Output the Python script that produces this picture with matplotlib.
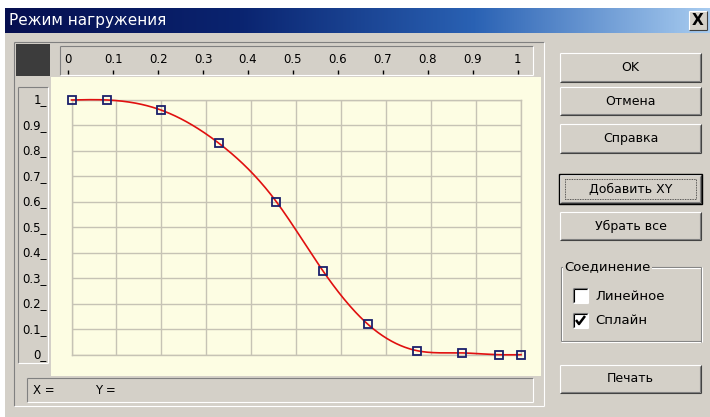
import numpy as np
import matplotlib.pyplot as plt
from matplotlib.patches import Rectangle
from matplotlib.colors import LinearSegmentedColormap
from matplotlib import font_manager

# --- data ---
x_pts = [0.0, 0.08, 0.2, 0.328, 0.456, 0.559, 0.659, 0.768, 0.868, 0.95, 1.0]
y_pts = [1.0, 1.0, 0.96, 0.83, 0.6, 0.33, 0.12, 0.016, 0.007, 0.0, 0.0]

x_ticks = [0, 0.1, 0.2, 0.3, 0.4, 0.5, 0.6, 0.7, 0.8, 0.9, 1.0]
x_tick_labels = ['0', '0.1', '0.2', '0.3', '0.4', '0.5', '0.6', '0.7', '0.8', '0.9', '1']
y_ticks = [0, 0.1, 0.2, 0.3, 0.4, 0.5, 0.6, 0.7, 0.8, 0.9, 1.0]
y_tick_labels = ['0_', '0.1_', '0.2_', '0.3_', '0.4_', '0.5_', '0.6_', '0.7_', '0.8_', '0.9_', '1_']

title = 'Режим нагружения'
buttons = ['OK', 'Отмена', 'Справка', 'Добавить XY', 'Убрать все', 'Печать']
group_title = 'Соединение'
checks = ['Линейное', 'Сплайн']
checked = [False, True]

W, H = 710, 417
GRAY = '#d4d0c8'
plt.rcParams['font.family'] = ['DejaVu Sans']

# narrow font for the rulers if there is one
names = {f.name for f in font_manager.fontManager.ttflist}
if 'Liberation Sans Narrow' in names:
    RULER = dict(family='Liberation Sans Narrow', fontsize=10.5, fontweight='bold')
else:
    RULER = dict(family='DejaVu Sans', fontsize=8.5)


def natural_spline(x, y, xs):
    x = np.asarray(x, float)
    y = np.asarray(y, float)
    n = len(x)
    h = np.diff(x)
    A = np.zeros((n, n))
    r = np.zeros(n)
    A[0, 0] = 1
    A[-1, -1] = 1
    for i in range(1, n - 1):
        A[i, i - 1] = h[i - 1]
        A[i, i] = 2 * (h[i - 1] + h[i])
        A[i, i + 1] = h[i]
        r[i] = 3 * ((y[i + 1] - y[i]) / h[i] - (y[i] - y[i - 1]) / h[i - 1])
    c = np.linalg.solve(A, r)
    b = (y[1:] - y[:-1]) / h - h * (2 * c[:-1] + c[1:]) / 3
    d = (c[1:] - c[:-1]) / (3 * h)
    k = np.clip(np.searchsorted(x, xs) - 1, 0, n - 2)
    t = xs - x[k]
    return y[k] + b[k] * t + c[k] * t ** 2 + d[k] * t ** 3


fig = plt.figure(figsize=(7.1, 4.17), dpi=100)
fig.patch.set_facecolor('white')
bg = fig.add_axes([0, 0, 1, 1])
bg.axis('off')


def box(x0, y0, x1, y1, fc, z=1):
    bg.add_patch(Rectangle((x0, y0), x1 - x0, y1 - y0, facecolor=fc,
                           edgecolor='none', zorder=z))


def line(xs, ys, c, lw=0.8, z=3, **kw):
    bg.plot(xs, ys, color=c, lw=lw, zorder=z, solid_capstyle='butt', **kw)


def bevel(x0, y0, x1, y1, raised=True, z=3):
    light, dark = ('white', '#404040') if raised else ('#808080', 'white')
    line([x0, x1], [y0, y0], light, z=z)
    line([x0, x0], [y0, y1], light, z=z)
    line([x0, x1], [y1, y1], dark, z=z)
    line([x1, x1], [y0, y1], dark, z=z)


# window
box(5, 8, W, H, GRAY)

# title bar
cmap = LinearSegmentedColormap.from_list('tb', ['#060f50', '#0a2470', '#2a62b4', '#a8ccf0'])
bg.imshow(np.linspace(0, 1, 256)[None, :], cmap=cmap, aspect='auto',
          extent=(5, W, 33, 8), zorder=2)
bg.text(9, 20.5, title, color='white', fontsize=11, va='center', ha='left', zorder=4)
box(689, 11, 707, 30, GRAY, z=3)
bevel(689, 11, 707, 30)
bg.text(698, 20.5, 'X', fontsize=11, fontweight='bold', ha='center', va='center', zorder=4)

# chart control frame
bevel(14, 42, 544, 406, raised=False)
box(16, 44, 50, 76, '#3c3c3c', z=2)
box(51, 44, 543, 77, GRAY, z=2)
bevel(60, 46, 533, 75, raised=False)
box(16, 77, 50, 376, GRAY, z=2)
bevel(18, 87, 48, 363, raised=False)
box(51, 77, 541, 376, '#fdfde3', z=2)
box(16, 376, 543, 405, GRAY, z=2)
bevel(27, 378, 533, 402, raised=False)
bg.text(33, 391, 'X =', fontsize=8.5, va='center', ha='left', zorder=4)
bg.text(95, 391, 'Y =', fontsize=8.5, va='center', ha='left', zorder=4)

# rulers
for v, lab in zip(x_ticks, x_tick_labels):
    px = 68.3 + 449.4 * v
    bg.text(px, 59, lab, ha='center', va='center', zorder=4, **RULER)
    line([px, px], [70, 74], 'black', lw=1.0, z=4)
for v, lab in zip(y_ticks, y_tick_labels):
    py = 354.7 - 254.7 * v
    bg.text(47, py, lab, ha='right', va='center', zorder=4, **RULER)

# buttons
btn_y = [(53, 82), (87, 115), (124, 153), (175, 203), (212, 240), (365, 393)]
for lab, (y0, y1) in zip(buttons, btn_y):
    box(560, y0, 701, y1, GRAY, z=2)
    bevel(560, y0, 701, y1)
    line([561, 700], [y1 - 1, y1 - 1], '#808080', z=3)
    line([700, 700], [y0 + 1, y1 - 1], '#808080', z=3)
    if lab == 'Добавить XY':
        bg.add_patch(Rectangle((559, y0 - 1), 143, y1 - y0 + 2, facecolor='none',
                               edgecolor='black', lw=1.0, zorder=4))
        bg.add_patch(Rectangle((565, y0 + 4), 131, y1 - y0 - 8, facecolor='none',
                               edgecolor='#303030', lw=0.6, ls=(0, (1, 1)), zorder=4))
    bg.text(630.5, (y0 + y1) / 2, lab, fontsize=9, ha='center', va='center', zorder=5)

# group box
line([561, 701], [267, 267], '#808080')
line([561, 701], [268, 268], 'white')
line([561, 561], [267, 341], '#808080')
line([562, 562], [268, 341], 'white')
line([561, 701], [341, 341], '#808080')
line([561, 701], [342, 342], 'white')
line([701, 701], [267, 342], '#808080')
line([702, 702], [267, 342], 'white')
bg.text(564, 267, group_title, fontsize=9.5, ha='left', va='center', zorder=5,
        bbox=dict(facecolor=GRAY, edgecolor='none', pad=1))

for i, (lab, on) in enumerate(zip(checks, checked)):
    y0 = 288 + 25 * i
    box(573, y0, 588, y0 + 15, 'white', z=3)
    bevel(573, y0, 588, y0 + 15, raised=False, z=4)
    line([574, 587], [y0 + 1, y0 + 1], 'black', z=4)
    line([574, 574], [y0 + 1, y0 + 14], 'black', z=4)
    if on:
        line([576, 579, 585], [y0 + 7, y0 + 11, y0 + 3], 'black', lw=1.8, z=5)
    bg.text(595, y0 + 8, lab, fontsize=9.5, ha='left', va='center', zorder=5)

bg.set_xlim(0, W)
bg.set_ylim(H, 0)

# plot area
X0, X1, YT, YB = 71.5, 521.0, 100.0, 354.7
ax = fig.add_axes([X0 / W, 1 - YB / H, (X1 - X0) / W, (YB - YT) / H])
ax.set_facecolor('none')
ax.set_xlim(0, 1)
ax.set_ylim(0, 1)
ax.set_xticks(x_ticks)
ax.set_yticks(y_ticks)
ax.tick_params(length=0, labelbottom=False, labelleft=False)
ax.grid(True, color='#c6c3b5', lw=1.0)
ax.set_axisbelow(True)
for s in ax.spines.values():
    s.set_color('#c6c3b5')
    s.set_linewidth(1.0)

xs = np.linspace(0, 1, 400)
ax.plot(xs, natural_spline(x_pts, y_pts, xs), color='#e01010', lw=1.2,
        clip_on=False, zorder=3)
ax.plot(x_pts, y_pts, 's', mfc='none', mec='#1b1f6b', ms=5.8, mew=1.3,
        clip_on=False, zorder=4)

fig.savefig('out.png', dpi=100)
